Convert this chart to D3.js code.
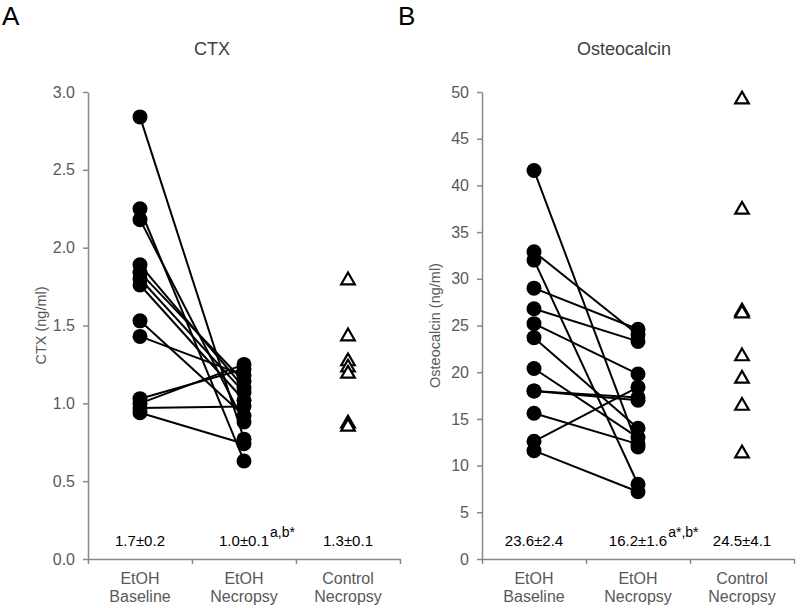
<!DOCTYPE html>
<html>
<head>
<meta charset="utf-8">
<script src="https://cdnjs.cloudflare.com/ajax/libs/d3/7.8.5/d3.min.js"></script>
<style>
  body { margin: 0; background: #fff; }
  svg { font-family: "Liberation Sans", Arial, sans-serif; }
</style>
</head>
<body>
<div id="chart"></div>
<script>
// Groups on the x axis
const groups = ["EtOH Baseline", "EtOH Necropsy", "Control Necropsy"];

// Panel A - CTX (ng/ml), paired baseline -> necropsy
const ctxBaseline = [2.84, 2.25, 2.18, 1.89, 1.84, 1.80, 1.76, 1.53, 1.43, 1.03, 1.00, 0.97, 0.94];
const ctxNecropsy = [0.77, 0.63, 0.88, 1.10, 1.14, 1.07, 1.02, 0.92, 1.18, 1.22, 1.25, 0.98, 0.74];
const ctxControl = [1.79, 1.43, 1.27, 1.23, 1.19, 0.87, 0.85];
const ctxTicks = [0, 0.5, 1.0, 1.5, 2.0, 2.5, 3.0];
const ctxSummary = ["1.7±0.2", "1.0±0.1", "1.3±0.1"];
const ctxSup = ["", "a,b*", ""];

// Panel B - Osteocalcin (ng/ml)
const ocBaseline = [41.6, 32.9, 32.0, 29.0, 26.8, 25.2, 23.7, 20.4, 18.0, 18.0, 15.6, 12.6, 11.6];
const ocNecropsy = [12.0, 24.0, 8.0, 24.6, 23.3, 19.8, 14.0, 13.0, 17.3, 17.0, 12.3, 18.4, 7.2];
const ocControl = [49.2, 37.4, 26.5, 26.3, 21.7, 19.3, 16.4, 11.3];
const ocTicks = [0, 5, 10, 15, 20, 25, 30, 35, 40, 45, 50];
const ocSummary = ["23.6±2.4", "16.2±1.6", "24.5±4.1"];
const ocSup = ["", "a*,b*", ""];

const svg = d3.select("#chart")
    .append("svg")
    .attr("width", 800)
    .attr("height", 608);

const axisColor = "#898989";
const labelColor = "#595959";

function drawPanel(opt) {
    const g = svg.append("g");

    const y = d3.scaleLinear().domain(opt.domain).range([559, 92]);
    const x = d3.scaleBand().domain(groups).range([opt.left, opt.left + 312]);
    const cx = d => x(d) + x.bandwidth() / 2;

    // panel letter
    g.append("text")
        .attr("x", opt.letterX)
        .attr("y", 25)
        .style("font-size", "26px")
        .attr("fill", "#000")
        .text(opt.letter);

    // title
    g.append("text")
        .attr("x", opt.titleX)
        .attr("y", 55)
        .attr("text-anchor", "middle")
        .style("font-size", "18px")
        .attr("fill", "#404040")
        .text(opt.title);

    // y axis
    const yAxis = g.append("g")
        .attr("transform", `translate(${opt.left}, 0)`)
        .call(d3.axisLeft(y).tickValues(opt.ticks).tickFormat(opt.fmt).tickSize(5).tickSizeOuter(0).tickPadding(8));
    yAxis.select(".domain").attr("stroke", axisColor).attr("stroke-width", 1.5);
    yAxis.selectAll(".tick line").attr("stroke", axisColor).attr("stroke-width", 1.5);
    yAxis.selectAll(".tick text").attr("fill", labelColor).style("font-size", "16px").attr("font-family", "Liberation Sans, Arial, sans-serif");

    // y label
    g.append("text")
        .attr("transform", `translate(${opt.left - 42}, ${(y.range()[0] + y.range()[1]) / 2}) rotate(-90)`)
        .attr("text-anchor", "middle")
        .style("font-size", "14.5px")
        .attr("fill", labelColor)
        .text(opt.yLabel);

    // x axis: line plus ticks at group boundaries
    const xb = d3.scaleLinear().domain([0, 3]).range(x.range());
    const xAxis = g.append("g")
        .attr("transform", "translate(0, 559)")
        .call(d3.axisBottom(xb).tickValues([0, 1, 2, 3]).tickFormat("").tickSize(5).tickSizeOuter(0));
    xAxis.select(".domain").attr("stroke", axisColor).attr("stroke-width", 1.5);
    xAxis.selectAll(".tick line").attr("stroke", axisColor).attr("stroke-width", 1.5);

    // x labels, two lines
    groups.forEach(name => {
        const words = name.split(" ");
        const t = g.append("text")
            .attr("text-anchor", "middle")
            .style("font-size", "16px")
            .attr("fill", labelColor);
        words.forEach((w, i) => {
            t.append("tspan")
                .attr("x", cx(name))
                .attr("y", 584 + i * 18)
                .text(w);
        });
    });

    // paired lines
    const pairs = opt.baseline.map((v, i) => [v, opt.necropsy[i]]);
    g.selectAll(".pair")
        .data(pairs)
        .join("line")
        .attr("x1", cx(groups[0]))
        .attr("y1", d => y(d[0]))
        .attr("x2", cx(groups[1]))
        .attr("y2", d => y(d[1]))
        .attr("stroke", "#000")
        .attr("stroke-width", 2);

    // filled circles
    const dots = opt.baseline.map(v => [groups[0], v]).concat(opt.necropsy.map(v => [groups[1], v]));
    g.selectAll(".dot")
        .data(dots)
        .join("circle")
        .attr("cx", d => cx(d[0]))
        .attr("cy", d => y(d[1]))
        .attr("r", 7.5)
        .attr("fill", "#000");

    // open triangles for controls
    g.selectAll(".tri")
        .data(opt.control)
        .join("path")
        .attr("d", d3.symbol().type(d3.symbolTriangle).size(80))
        .attr("transform", d => `translate(${cx(groups[2])}, ${y(d)})`)
        .attr("fill", "#fff")
        .attr("stroke", "#000")
        .attr("stroke-width", 2.2);

    // summary values
    groups.forEach((name, i) => {
        const t = g.append("text")
            .attr("x", cx(name))
            .attr("y", 546)
            .attr("text-anchor", "middle")
            .style("font-size", "15px")
            .attr("fill", "#000")
            .text(opt.summary[i]);
        if (opt.sup[i]) {
            const w = t.node().getComputedTextLength();
            g.append("text")
                .attr("x", cx(name) + w / 2 + 1)
                .attr("y", 537)
                .style("font-size", "14px")
                .attr("fill", "#000")
                .text(opt.sup[i]);
        }
    });
}

drawPanel({
    letter: "A", letterX: 2, title: "CTX", titleX: 212,
    left: 88, domain: [0, 3], ticks: ctxTicks, fmt: d3.format(".1f"),
    yLabel: "CTX (ng/ml)",
    baseline: ctxBaseline, necropsy: ctxNecropsy, control: ctxControl,
    summary: ctxSummary, sup: ctxSup
});

drawPanel({
    letter: "B", letterX: 398, title: "Osteocalcin", titleX: 624,
    left: 482, domain: [0, 50], ticks: ocTicks, fmt: d3.format("d"),
    yLabel: "Osteocalcin (ng/ml)",
    baseline: ocBaseline, necropsy: ocNecropsy, control: ocControl,
    summary: ocSummary, sup: ocSup
});
</script>
</body>
</html>
